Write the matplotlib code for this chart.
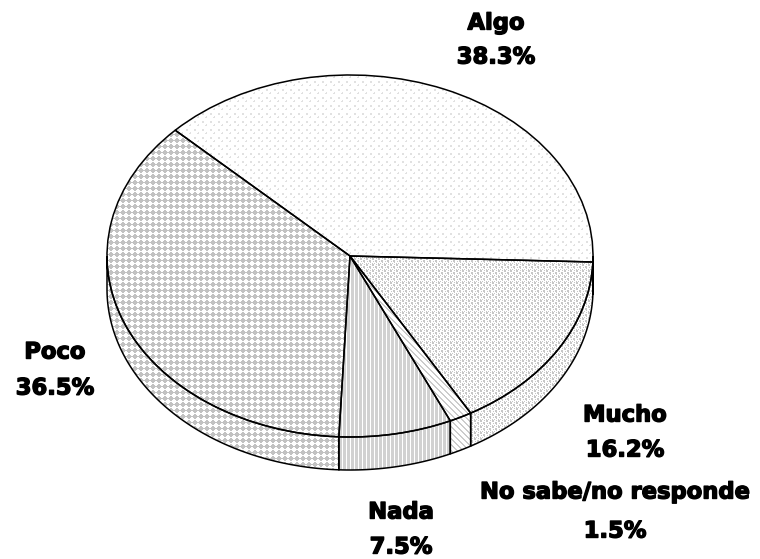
import numpy as np
import matplotlib
matplotlib.use("Agg")
import matplotlib.pyplot as plt
import matplotlib.patheffects as pe
from matplotlib.patches import Polygon

categories = ["Algo", "Poco", "Nada", "No sabe/no responde", "Mucho"]
values = [38.3, 36.5, 7.5, 1.5, 16.2]

W, H = 760, 559
CX, CY, RX, RY, DEPTH = 350, 256, 243, 181, 33
START = -1.9
LABEL_POS = [(496, 23, 57), (55, 352, 388), (401, 512, 547), (615, 492, 531), (625, 415, 450)]

def tile(rows, dark):
    a = np.array([[dark if c == "#" else 1.0 for c in r] for r in rows])
    ny, nx = a.shape
    return np.tile(a, (H // ny + 1, W // nx + 1))[:H, :W]

T_ALGO = tile(["........", "..##....", "..##....", "........",
               "......#.", ".....##.", "........", "........"], 0.88)
T_POCO = tile(["..##..", ".####.", "######", ".####.", "..##..", "......"], 0.76)
T_NADA = tile(["##.#"], 0.82)
T_NS = tile(["##....", ".##...", "..##..", "...##.", "....##", "#....#"], 0.80)
T_MUCHO = tile(["##..#.", "##....", "...##.", ".#.##.", "....#.", "#.#..."], 0.78)
textures = [T_ALGO, T_POCO, T_NADA, T_NS, T_MUCHO]

fig = plt.figure(figsize=(W / 100, H / 100), dpi=100)
ax = fig.add_axes([0, 0, 1, 1])
wedges, _ = ax.pie(values, startangle=START, counterclock=True, radius=1, frame=True,
                   wedgeprops=dict(facecolor="none", edgecolor="black", linewidth=1.1, zorder=5))
xlim = (-CX / RX, (W - CX) / RX)
ylim = ((CY - H) / RY, CY / RY)
ax.set_xlim(xlim); ax.set_ylim(ylim); ax.set_aspect("auto"); ax.axis("off")
d = DEPTH / RY

def texture(arr, patch):
    im = ax.imshow(arr, cmap="gray", vmin=0, vmax=1, extent=(*xlim, *ylim), origin="upper",
                   aspect="auto", interpolation="nearest", zorder=2)
    im.set_clip_path(patch)

for w, tex in zip(wedges, textures):
    texture(tex, w)
    for off in (0, 360):
        a, b = max(w.theta1 + off, 180), min(w.theta2 + off, 360)
        if b <= a:
            continue
        t = np.radians(np.linspace(a, b, 120))
        x, y = np.cos(t), np.sin(t)
        pts = np.r_[np.c_[x, y], np.c_[x[::-1], y[::-1] - d]]
        wall = Polygon(pts, closed=True, facecolor="none", edgecolor="black", linewidth=1.1, zorder=4)
        ax.add_patch(wall)
        texture(tex, wall)
ax.set_xlim(xlim); ax.set_ylim(ylim)

for c, v, (px, y1, y2) in zip(categories, values, LABEL_POS):
    for s, py in ((c, y1), (f"{v}%", y2)):
        ax.text((px - CX) / RX, (CY - py) / RY, s, ha="center", va="center", fontsize=16.3,
                family="DejaVu Sans", weight="bold", color="black", zorder=6,
                path_effects=[pe.withStroke(linewidth=1.0, foreground="black")])

fig.savefig("out.png", dpi=100)
